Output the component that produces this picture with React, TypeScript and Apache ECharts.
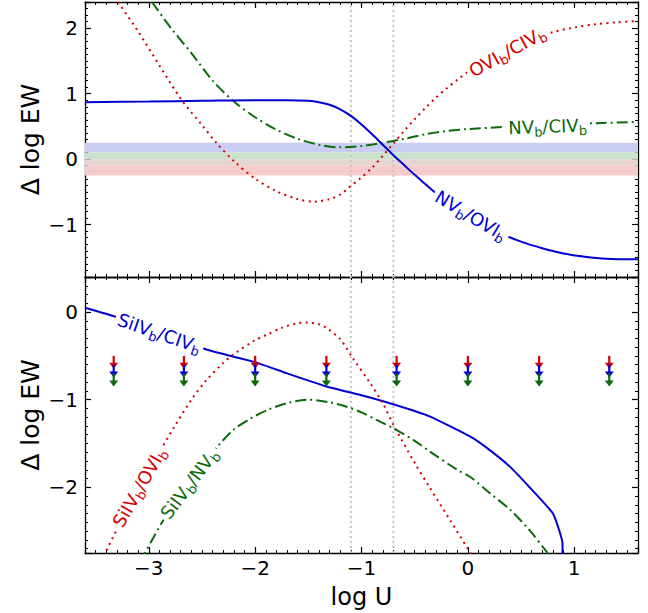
import React, { useEffect, useRef } from 'react';
import * as echarts from 'echarts';

// ---------- axis limits ----------
const xMin = -3.6, xMax = 1.6;
const topYMin = -1.8, topYMax = 2.4;
const botYMin = -2.75, botYMax = 0.4;

// vertical reference lines (log U)
const refLinesX = [-1.1, -0.7];

// horizontal bands in the upper panel (edges, top to bottom) and their colours
const bandEdges = [0.25, 0.1, 0, -0.1, -0.25];
const bandColors = ['#c9ccf3', '#cbe3cc', '#e6d5d2', '#f6cbcb'];

// ---------- upper panel ----------
const oviCivX = [-3.29, -3.1, -2.9, -2.69, -2.5, -2.36, -2.2, -2.0, -1.8, -1.6, -1.45, -1.3, -1.2, -1.1, -1.0, -0.9, -0.8, -0.7, -0.6, -0.5, -0.4, -0.3, -0.2, -0.1, 0.1, 0.3, 0.5, 0.8, 1.0, 1.2, 1.4, 1.6];
const oviCivY = [2.4, 1.95, 1.43, 0.9, 0.52, 0.24, -0.03, -0.3, -0.49, -0.61, -0.65, -0.61, -0.54, -0.41, -0.28, -0.13, 0.05, 0.24, 0.43, 0.61, 0.78, 0.94, 1.08, 1.21, 1.45, 1.63, 1.78, 1.94, 2.01, 2.06, 2.09, 2.11];

const nvCivX = [-2.97, -2.8, -2.6, -2.4, -2.2, -2.0, -1.8, -1.6, -1.4, -1.2, -1.0, -0.83, -0.6, -0.4, -0.2, 0.0, 0.33, 0.7, 1.0, 1.21, 1.6];
const nvCivY = [2.4, 2.02, 1.62, 1.2, 0.88, 0.64, 0.45, 0.31, 0.22, 0.18, 0.2, 0.24, 0.31, 0.38, 0.43, 0.46, 0.49, 0.52, 0.54, 0.55, 0.57];

const nvOviX = [-3.6, -3.0, -2.5, -2.0, -1.7, -1.5, -1.4, -1.3, -1.2, -1.1, -1.0, -0.9, -0.8, -0.7, -0.6, -0.5, -0.4, -0.3, -0.1, 0.1, 0.3, 0.5, 0.7, 0.9, 1.1, 1.3, 1.6];
const nvOviY = [0.87, 0.88, 0.89, 0.9, 0.9, 0.89, 0.87, 0.83, 0.76, 0.66, 0.53, 0.38, 0.22, 0.06, -0.09, -0.24, -0.38, -0.52, -0.77, -0.97, -1.13, -1.26, -1.36, -1.44, -1.49, -1.52, -1.53];

// ---------- lower panel ----------
const siCivX = [-3.6, -3.32, -3.0, -2.7, -2.45, -2.2, -1.98, -1.7, -1.33, -1.0, -0.71, -0.36, 0.02, 0.2, 0.4, 0.58, 0.8, 0.89, 0.891];
const siCivY = [0.05, -0.05, -0.19, -0.32, -0.43, -0.51, -0.58, -0.7, -0.85, -0.95, -1.05, -1.19, -1.42, -1.57, -1.77, -2.0, -2.3, -2.64, -3.0];

const siOviX = [-3.45, -3.27, -3.1, -2.95, -2.76, -2.6, -2.46, -2.3, -2.21, -2.0, -1.89, -1.75, -1.61, -1.5, -1.4, -1.33, -1.2, -1.08, -0.92, -0.8, -0.69, -0.5, -0.36, -0.17, 0.03];
const siOviY = [-2.85, -2.41, -2.04, -1.7, -1.31, -1.0, -0.78, -0.58, -0.49, -0.32, -0.26, -0.18, -0.13, -0.12, -0.14, -0.18, -0.31, -0.53, -0.81, -1.04, -1.31, -1.72, -2.0, -2.37, -2.76];

const siNvX = [-3.08, -2.88, -2.7, -2.5, -2.35, -2.21, -2.05, -1.89, -1.7, -1.51, -1.3, -1.14, -0.99, -0.86, -0.71, -0.5, -0.36, -0.1, 0.02, 0.2, 0.4, 0.58, 0.75, 0.78];
const siNvY = [-2.85, -2.41, -2.07, -1.75, -1.53, -1.35, -1.22, -1.12, -1.04, -1.0, -1.03, -1.08, -1.15, -1.23, -1.32, -1.47, -1.59, -1.8, -1.88, -2.06, -2.26, -2.49, -2.75, -2.8];

// upper limits (arrows)
const limitX = [-3.33, -2.67, -2.0, -1.33, -0.67, 0.0, 0.67, 1.33];
const limitRed = -0.5;
const limitBlue = -0.6;
const limitGreen = -0.7;

// ---------- colours ----------
const RED = '#d40000';
const BLUE = '#0000d4';
const GREEN = '#0b6b0b';
const arrowColors = [RED, BLUE, GREEN];

// ---------- curve labels ----------
const labelParts = [
  ['OVI', 'b', '/CIV', 'b'],
  ['NV', 'b', '/CIV', 'b'],
  ['NV', 'b', '/OVI', 'b'],
  ['SiIV', 'b', '/CIV', 'b'],
  ['SiIV', 'b', '/OVI', 'b'],
  ['SiIV', 'b', '/NV', 'b'],
];
const labelX = [0.37, 0.75, 0.03, -2.9, -3.09, -2.62];
const labelY = [1.64, 0.5, -0.86, -0.24, -2.0, -1.96];
const labelRot = [29, 2, -31, -19, 60, 53];
const labelColor = [RED, GREEN, BLUE, BLUE, RED, GREEN];
const labelGrid = [0, 0, 0, 1, 1, 1];

const FONT = 'DejaVu Sans';

const zip = (xs: number[], ys: number[]) => xs.map((x, i) => [x, ys[i]]);

const fmtTick = (v: number) => {
  if (Math.abs(v - Math.round(v)) > 1e-9) return '';
  const r = Math.round(v);
  return r < 0 ? '\u2212' + Math.abs(r) : String(r);
};

const GRID_LEFT = 85;
const GRID_W = 553;
const TOP_T = 2, TOP_H = 275;
const BOT_T = 277, BOT_H = 276;

function xAxisDef(gridIndex: number, position: string, labels: boolean) {
  return {
    type: 'value', gridIndex, position, min: xMin, max: xMax, splitNumber: 5,
    axisLine: { show: true, onZero: false, lineStyle: { color: '#000', width: 1.3 } },
    axisTick: { show: true, inside: true, length: 6, lineStyle: { color: '#000', width: 1.2 } },
    minorTick: { show: true, splitNumber: 10, length: 3, lineStyle: { color: '#000', width: 1 } },
    splitLine: { show: false },
    axisLabel: { show: labels, formatter: fmtTick, fontSize: 20, fontFamily: FONT, color: '#000', margin: 5 },
  };
}
function yAxisDef(gridIndex: number, position: string, labels: boolean, min: number, max: number, split: number) {
  return {
    type: 'value', gridIndex, position, min, max, splitNumber: split,
    axisLine: { show: true, onZero: false, lineStyle: { color: '#000', width: 1.3 } },
    axisTick: { show: true, inside: true, length: 6, lineStyle: { color: '#000', width: 1.2 } },
    minorTick: { show: true, splitNumber: 10, length: 3, lineStyle: { color: '#000', width: 1 } },
    splitLine: { show: false },
    axisLabel: { show: labels, formatter: fmtTick, fontSize: 20, fontFamily: FONT, color: '#000', margin: 7 },
  };
}

function richText(parts: string[]) {
  return parts.map((p, i) => (i % 2 === 0 ? `{m|${p}}` : `{s|${p}}`)).join('');
}

export default function App() {
  const ref = useRef<HTMLDivElement>(null);
  useEffect(() => {
    if (!ref.current) return;
    const chart = echarts.init(ref.current, undefined, { renderer: 'svg' });

    const refSeries: any[] = [];
    refLinesX.forEach((x, i) => {
      refSeries.push({
        type: 'line', xAxisIndex: 0, yAxisIndex: 0, data: [[x, topYMin], [x, topYMax]],
        symbol: 'none', silent: true, z: 1,
        lineStyle: { color: '#c4c4c4', width: 2, type: [2, 3] },
        markArea: i === 0 ? {
          silent: true,
          data: bandColors.map((c, k) => [
            { yAxis: bandEdges[k], itemStyle: { color: c } },
            { yAxis: bandEdges[k + 1] },
          ]),
        } : undefined,
      });
      refSeries.push({
        type: 'line', xAxisIndex: 2, yAxisIndex: 2, data: [[x, botYMin], [x, botYMax]],
        symbol: 'none', silent: true, z: 1,
        lineStyle: { color: '#c4c4c4', width: 2, type: [2, 3] },
      });
    });

    const curve = (xs: number[], ys: number[], axis: number, color: string, dash: any, smooth: any) => ({
      type: 'line', xAxisIndex: axis, yAxisIndex: axis, data: zip(xs, ys), symbol: 'none',
      smooth, clip: true, z: 3,
      lineStyle: { color, width: 2, type: dash },
    });

    const dotted = [2, 4.3];
    const dashDot = [11, 4, 2, 4];

    const arrowData: number[][] = [];
    limitX.forEach((x) => {
      arrowData.push([x, limitRed, 0]);
      arrowData.push([x, limitBlue, 1]);
      arrowData.push([x, limitGreen, 2]);
    });

    const option: any = {
      animation: false,
      backgroundColor: '#fff',
      grid: [
        { left: GRID_LEFT, top: TOP_T, width: GRID_W, height: TOP_H },
        { left: GRID_LEFT, top: BOT_T, width: GRID_W, height: BOT_H },
      ],
      xAxis: [
        xAxisDef(0, 'bottom', false),
        xAxisDef(0, 'top', false),
        xAxisDef(1, 'bottom', true),
        xAxisDef(1, 'top', false),
      ],
      yAxis: [
        yAxisDef(0, 'left', true, topYMin, topYMax, 4),
        yAxisDef(0, 'right', false, topYMin, topYMax, 4),
        yAxisDef(1, 'left', true, botYMin, botYMax, 3),
        yAxisDef(1, 'right', false, botYMin, botYMax, 3),
      ],
      series: [
        ...refSeries,
        curve(oviCivX, oviCivY, 0, RED, dotted, 0.3),
        curve(nvCivX, nvCivY, 0, GREEN, dashDot, 0.3),
        curve(nvOviX, nvOviY, 0, BLUE, 'solid', 0.3),
        curve(siCivX, siCivY, 2, BLUE, 'solid', 0.15),
        curve(siOviX, siOviY, 2, RED, dotted, 0.3),
        curve(siNvX, siNvY, 2, GREEN, dashDot, 0.3),
        {
          type: 'custom', xAxisIndex: 2, yAxisIndex: 2, data: arrowData, z: 4,
          encode: { x: 0, y: 1 },
          renderItem: (params: any, api: any) => {
            const p = api.coord([api.value(0), api.value(1)]);
            const c = arrowColors[api.value(2)];
            return {
              type: 'group',
              children: [
                { type: 'line', shape: { x1: p[0], y1: p[1], x2: p[0], y2: p[1] + 9 }, style: { stroke: c, lineWidth: 2.2 } },
                { type: 'polygon', shape: { points: [[p[0] - 4.5, p[1] + 7], [p[0] + 4.5, p[1] + 7], [p[0], p[1] + 13]] }, style: { fill: c } },
              ],
            };
          },
        },
      ],
    };
    chart.setOption(option);

    const graphics: any[] = labelParts.map((parts, i) => {
      const p = chart.convertToPixel({ gridIndex: labelGrid[i] } as any, [labelX[i], labelY[i]]) as number[];
      const col = labelColor[i];
      return {
        type: 'text', x: p[0], y: p[1], rotation: (labelRot[i] * Math.PI) / 180, z: 100,
        style: {
          text: richText(parts), align: 'center', verticalAlign: 'middle',
          backgroundColor: '#fff', padding: [0, 3, 0, 3],
          rich: {
            m: { fontSize: 18, fontFamily: FONT, fill: col, lineHeight: 24, verticalAlign: 'middle' },
            s: { fontSize: 13, fontFamily: FONT, fill: col, lineHeight: 14, verticalAlign: 'bottom' },
          },
        },
      };
    });
    graphics.push({
      type: 'text', x: 30, y: TOP_T + TOP_H / 2, rotation: Math.PI / 2, z: 100,
      style: { text: '\u0394 log EW', fontSize: 25, fontFamily: FONT, fill: '#000', align: 'center', verticalAlign: 'middle' },
    });
    graphics.push({
      type: 'text', x: 30, y: BOT_T + BOT_H / 2, rotation: Math.PI / 2, z: 100,
      style: { text: '\u0394 log EW', fontSize: 25, fontFamily: FONT, fill: '#000', align: 'center', verticalAlign: 'middle' },
    });
    graphics.push({
      type: 'text', x: GRID_LEFT + GRID_W / 2, y: 597, z: 100,
      style: { text: 'log U', fontSize: 24, fontFamily: FONT, fill: '#000', align: 'center', verticalAlign: 'middle' },
    });
    chart.setOption({ graphic: graphics });

    return () => chart.dispose();
  }, []);
  return <div ref={ref} style={{ position: 'absolute', left: 0, top: 0, width: 648, height: 613, background: '#fff' }} />;
}
